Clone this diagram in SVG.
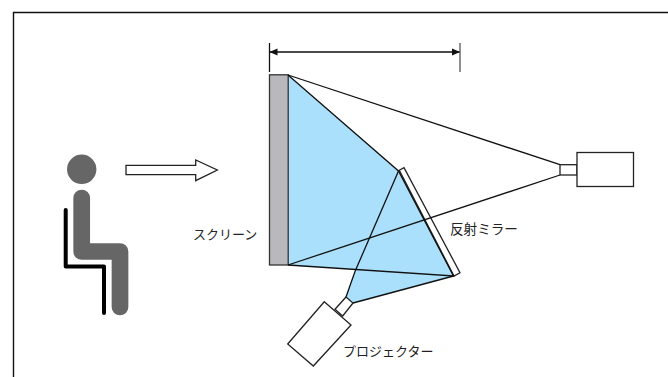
<svg xmlns="http://www.w3.org/2000/svg" width="668" height="377" viewBox="0 0 668 377">
<style>
.l{fill:none;stroke:#111;stroke-width:1.3}
.b{fill:#fff;stroke:#222;stroke-width:1.3}
.t{font-family:"Noto Sans CJK JP","Liberation Sans",sans-serif;font-size:13px;fill:#222}
</style>
<defs>
<marker id="a" markerWidth="9" markerHeight="8" refX="8" refY="4" orient="auto-start-reverse" markerUnits="userSpaceOnUse"><path d="M0 0.5L8 4L0 7.5Z" fill="#111"/></marker>
</defs>
<rect width="668" height="377" fill="#fff"/>
<path id="frame" d="M13.5 377V12.5H668" fill="none" stroke="#111" stroke-width="1.4"/>
<g id="person">
<circle cx="81.7" cy="169.3" r="14.7" fill="#666"/>
<path d="M81.7 198V251.5H120V307" fill="none" stroke="#666" stroke-width="16.7" stroke-linecap="round" stroke-linejoin="round"/>
<path d="M65.7 210V266.5H104V313" fill="none" stroke="#000" stroke-width="4" stroke-linecap="round" stroke-linejoin="round"/>
</g>
<g id="view-arrow"><path class="b" d="M126 165.3H195.7V160L217.3 170L195.7 180.7V174.7H126Z"/></g>
<g id="light">
<path d="M288 75L398.5 171L453.5 276L353 303L346 297L356 269.5L288 265Z" fill="#aae0fb"/>
</g>
<g id="screen"><rect x="269.5" y="74.8" width="18.7" height="190.2" fill="#b9b9bd" stroke="#333" stroke-width="1.3"/></g>
<g id="mirror"><path class="b" d="M399.3 170.3L404 167.7L460 272.7L454 276Z"/></g>
<g id="connectors">
<path class="l" d="M288 75L398.5 171L453.5 276L288 265"/>
<path class="l" d="M288 75L560 164.7"/>
<path class="l" d="M288 265L560 175"/>
<path class="l" d="M398.5 171L355 271.5L346 297"/>
<path class="l" d="M453.5 276L353 303"/>
<path class="l" d="M269.5 52H460" marker-start="url(#a)" marker-end="url(#a)"/>
<path class="l" d="M269.5 43V72"/>
<path d="M460 43V72" fill="none" stroke="#555" stroke-width="1.3"/>
</g>
<g id="camera">
<rect class="b" x="560" y="164.7" width="17" height="10.3"/>
<rect class="b" x="577" y="152.5" width="56.5" height="34"/>
</g>
<g id="projector">
<path class="b" d="M346 297L353 303L342.7 316L335 309.3Z"/>
<path class="b" d="M324.3 301.7L351 325L313.3 366L287.7 344Z"/>
</g>
<text class="t" x="193" y="239">スクリーン</text>
<text class="t" x="450" y="234" style="font-size:13.6px">反射ミラー</text>
<text class="t" x="343" y="356">プロジェクター</text>
</svg>
